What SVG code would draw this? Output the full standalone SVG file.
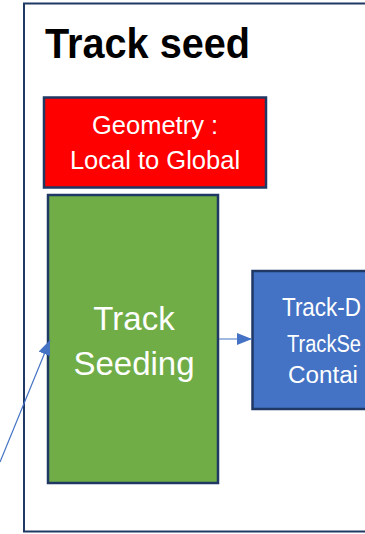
<svg xmlns="http://www.w3.org/2000/svg" width="365" height="534" viewBox="0 0 365 534">
  <style>
    .box { stroke: #1f3864; stroke-width: 2.5; }
    .lbl { font-family: "Liberation Sans", Arial, sans-serif; fill: #ffffff; text-anchor: middle; }
    .lbl-start { font-family: "Liberation Sans", Arial, sans-serif; fill: #ffffff; }
    .conn { stroke: #4472c4; stroke-width: 1.2; fill: none; }
  </style>
  <defs>
    <marker id="arrow" markerUnits="userSpaceOnUse" markerWidth="15" markerHeight="12" refX="15" refY="6" orient="auto">
      <path d="M0,0 L15,6 L0,12 Z" fill="#4472c4"/>
    </marker>
  </defs>
  <rect width="365" height="534" fill="#ffffff"/>

  <!-- outer frame -->
  <g id="frame">
    <rect x="24" y="3.5" width="400" height="528" fill="none" stroke="#1f3864" stroke-width="2"/>
    <text x="45" y="58" font-family="'Liberation Sans', Arial, sans-serif" font-weight="bold" font-size="43" textLength="205" lengthAdjust="spacingAndGlyphs" fill="#000000">Track seed</text>
  </g>

  <g id="geometry">
    <rect class="box" x="44" y="97.5" width="222" height="90" fill="#ff0000"/>
    <text class="lbl" x="155" y="134" font-size="25.5">Geometry :</text>
    <text class="lbl" x="155" y="169" font-size="25.5">Local to Global</text>
  </g>

  <g id="seeding">
    <rect class="box" x="48" y="195" width="170" height="288" fill="#70ad47"/>
    <text class="lbl" x="134" y="330" font-size="33">Track</text>
    <text class="lbl" x="134" y="375" font-size="33">Seeding</text>
  </g>

  <g id="container">
    <rect class="box" x="252.5" y="271" width="150" height="138" fill="#4472c4"/>
    <text class="lbl-start" x="282" y="316" font-size="25" textLength="79" lengthAdjust="spacingAndGlyphs">Track-D</text>
    <text class="lbl-start" x="287" y="352" font-size="23" textLength="74" lengthAdjust="spacingAndGlyphs">TrackSe</text>
    <text class="lbl-start" x="288" y="383" font-size="23" textLength="70" lengthAdjust="spacingAndGlyphs">Contai</text>
  </g>

  <g id="connectors">
    <line class="conn" x1="219" y1="339" x2="252" y2="339" marker-end="url(#arrow)"/>
    <line class="conn" x1="0" y1="462" x2="50" y2="340" marker-end="url(#arrow)"/>
  </g>
</svg>
